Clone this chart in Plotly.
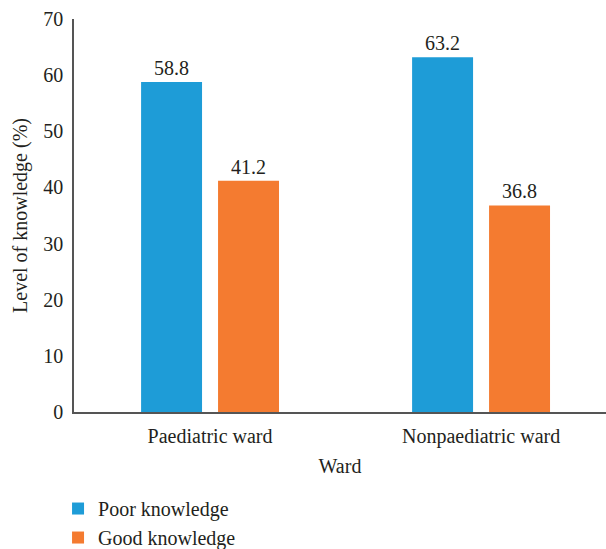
import plotly.graph_objects as go

categories = ["Paediatric ward", "Nonpaediatric ward"]
poor = [58.8, 63.2]
good = [41.2, 36.8]
series_names = ["Poor knowledge", "Good knowledge"]
colors = ["#1E9CD7", "#F47B30"]

FONT = "Liberation Serif"
FS = 20

fig = go.Figure()
for name, vals, col in zip(series_names, [poor, good], colors):
    fig.add_trace(go.Bar(
        x=categories, y=vals, name=name, marker=dict(color=col, line=dict(width=0)),
        text=[f"{v:.1f}" for v in vals], textposition="outside",
        textfont=dict(family=FONT, size=FS, color="#231F20"), cliponaxis=False,
    ))

fig.update_layout(
    width=606, height=549,
    margin=dict(l=74, r=0, t=19, b=137, autoexpand=False),
    paper_bgcolor="white", plot_bgcolor="white",
    barmode="group", bargap=0.432, bargroupgap=0.208,
    font=dict(family=FONT, size=FS, color="#231F20"),
    xaxis=dict(
        type="category", range=[-0.502, 1.461], automargin=False,
        showline=True, linecolor="#555", linewidth=1.5,
        ticks="", showgrid=False, tickfont=dict(size=FS), ticklabelstandoff=5,
        title=dict(text="Ward", standoff=12, font=dict(size=FS)),
    ),
    yaxis=dict(
        range=[0, 70], tickvals=[0, 10, 20, 30, 40, 50, 60, 70], automargin=False,
        showline=True, linecolor="#555", linewidth=1.5,
        ticks="", showgrid=False, zeroline=False, tickfont=dict(size=FS), ticklabelstandoff=5,
        title=dict(text="Level of knowledge (%)", standoff=10, font=dict(size=FS)),
    ),
    legend=dict(
        orientation="v", x=-0.03, y=-0.196, xanchor="left", yanchor="top",
        font=dict(size=FS), itemsizing="constant", borderwidth=0,
    ),
    showlegend=True,
)

fig.write_html(
    "out.html",
    config={"displayModeBar": False},
    post_script="document.body.style.margin='0';document.body.style.overflow='hidden';",
)
